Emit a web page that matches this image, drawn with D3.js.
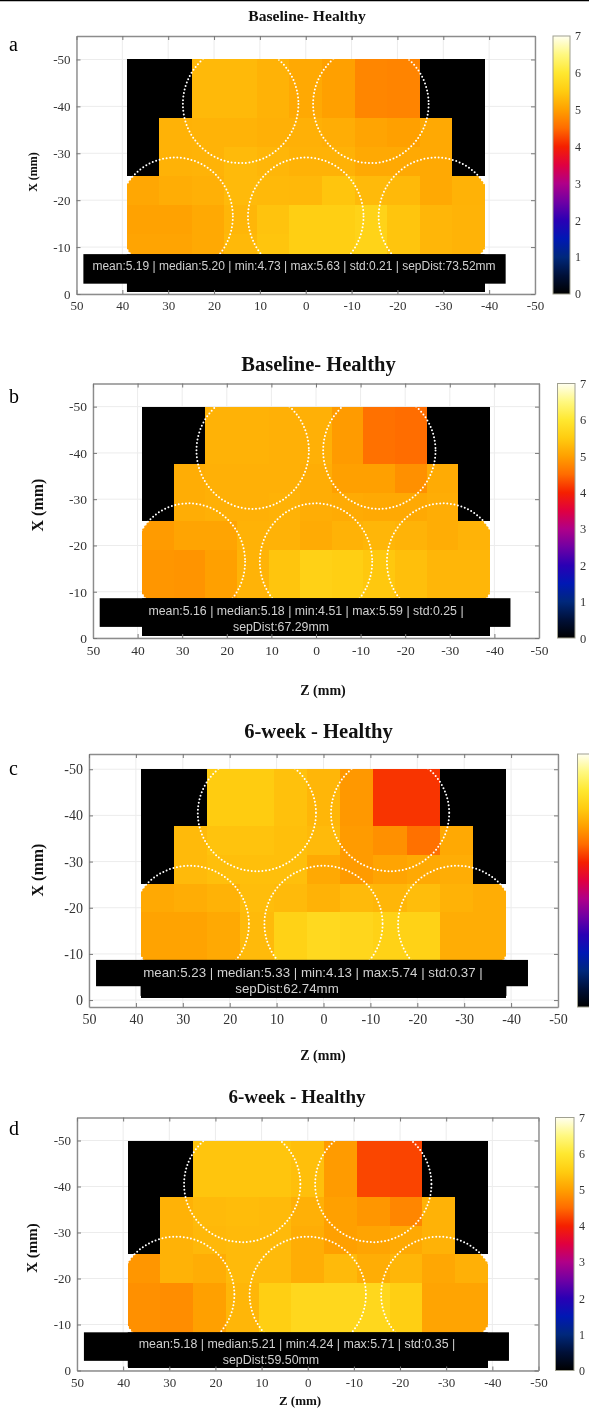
<!DOCTYPE html>
<html>
<head>
<meta charset="utf-8">
<script src="https://cdn.jsdelivr.net/npm/d3@7/dist/d3.min.js"></script>
<style>
html, body { margin: 0; padding: 0; background: #fff; overflow: hidden; }
svg { display: block; filter: blur(0.3px); }
</style>
</head>
<body>
<div id="chart"></div>
<script>
// heat values per panel, rows go from X=-50 down to X=0, columns from Z=39 to Z=-39
// 0 means no data (drawn black)
var valuesA = [
    [0, 0, 5.28, 5.28, 5.20, 5.10, 5.00, 4.75, 4.73, 0, 0],
    [0, 0, 5.28, 5.28, 5.20, 5.10, 5.00, 4.75, 4.73, 0, 0],
    [0, 5.20, 5.22, 5.22, 5.18, 5.18, 5.15, 5.05, 5.00, 5.10, 0],
    [0, 5.20, 5.22, 5.30, 5.25, 5.20, 5.20, 5.10, 5.10, 5.10, 0],
    [5.08, 5.15, 5.18, 5.30, 5.28, 5.27, 5.42, 5.30, 5.28, 5.10, 5.20],
    [5.02, 5.02, 5.10, 5.25, 5.40, 5.55, 5.55, 5.63, 5.42, 5.25, 5.22],
    [5.05, 5.05, 5.10, 5.28, 5.42, 5.55, 5.55, 5.63, 5.42, 5.25, 5.22],
    [0, 0, 0, 0, 0, 0, 0, 0, 0, 0, 0]
];
var valuesB = [
    [0, 0, 5.20, 5.20, 5.18, 5.18, 4.95, 4.55, 4.51, 0, 0],
    [0, 0, 5.20, 5.20, 5.18, 5.18, 4.95, 4.55, 4.51, 0, 0],
    [0, 5.15, 5.18, 5.18, 5.18, 5.15, 5.00, 5.00, 4.85, 5.12, 0],
    [0, 5.15, 5.18, 5.18, 5.20, 5.15, 5.12, 5.10, 5.10, 5.15, 0],
    [4.95, 5.05, 5.05, 5.20, 5.20, 5.12, 5.20, 5.25, 5.22, 5.15, 5.22],
    [4.90, 4.88, 5.00, 5.22, 5.42, 5.59, 5.55, 5.45, 5.35, 5.25, 5.25],
    [4.90, 4.88, 5.00, 5.22, 5.42, 5.59, 5.55, 5.45, 5.35, 5.25, 5.25],
    [0, 0, 0, 0, 0, 0, 0, 0, 0, 0, 0]
];
var valuesC = [
    [0, 0, 5.50, 5.50, 5.38, 5.25, 4.92, 4.13, 4.13, 0, 0],
    [0, 0, 5.50, 5.50, 5.38, 5.25, 4.92, 4.13, 4.13, 0, 0],
    [0, 5.30, 5.40, 5.40, 5.35, 5.30, 4.95, 4.85, 4.55, 5.10, 0],
    [0, 5.30, 5.35, 5.35, 5.35, 5.10, 4.95, 5.05, 5.10, 5.15, 0],
    [5.10, 5.15, 5.20, 5.33, 5.30, 5.20, 5.30, 5.25, 5.33, 5.20, 5.15],
    [5.03, 5.03, 5.10, 5.30, 5.60, 5.74, 5.68, 5.60, 5.60, 5.15, 5.15],
    [5.03, 5.03, 5.10, 5.30, 5.60, 5.74, 5.68, 5.60, 5.60, 5.15, 5.15],
    [0, 0, 0, 0, 0, 0, 0, 0, 0, 0, 0]
];
var valuesD = [
    [0, 0, 5.42, 5.42, 5.42, 5.35, 4.95, 4.25, 4.24, 0, 0],
    [0, 0, 5.42, 5.42, 5.42, 5.35, 4.95, 4.25, 4.24, 0, 0],
    [0, 5.20, 5.30, 5.32, 5.30, 5.18, 5.00, 4.90, 4.75, 5.20, 0],
    [0, 5.20, 5.27, 5.30, 5.30, 5.15, 5.00, 5.05, 5.10, 5.20, 0],
    [4.90, 5.20, 5.15, 5.30, 5.30, 5.15, 5.30, 5.15, 5.25, 5.08, 5.18],
    [4.85, 4.82, 5.00, 5.25, 5.55, 5.70, 5.70, 5.70, 5.55, 5.05, 5.05],
    [4.85, 4.82, 5.00, 5.25, 5.55, 5.70, 5.70, 5.70, 5.55, 5.05, 5.05],
    [0, 0, 0, 0, 0, 0, 0, 0, 0, 0, 0]
];

var statsA = ["mean:5.19 | median:5.20 | min:4.73 | max:5.63 | std:0.21 | sepDist:73.52mm"];
var statsB = ["mean:5.16 | median:5.18 | min:4.51 | max:5.59 | std:0.25 |", "sepDist:67.29mm"];
var statsC = ["mean:5.23 | median:5.33 | min:4.13 | max:5.74 | std:0.37 |", "sepDist:62.74mm"];
var statsD = ["mean:5.18 | median:5.21 | min:4.24 | max:5.71 | std:0.35 |", "sepDist:59.50mm"];

var zTicks = [50, 40, 30, 20, 10, 0, -10, -20, -30, -40, -50];
var xTicks = [-50, -40, -30, -20, -10, 0];
var cbTicks = [0, 1, 2, 3, 4, 5, 6, 7];

// colormap
var cmapValues = [0, 0.5, 1, 1.5, 2, 2.5, 3, 3.5, 4, 4.5, 5, 5.5, 6, 6.5, 7];
var cmapColors = ["#000000", "#001038", "#00287c", "#0018b4", "#2a00b4", "#7000a4", "#b00088", "#e00040",
                  "#f52000", "#ff6c00", "#ffa000", "#ffcc10", "#ffe830", "#fff880", "#fffff0"];

// the five circles in mm
var circleZ = [14.2, -14.2, 28.5, 0, -28.5];
var circleX = [-40.5, -40.5, -16.5, -16.5, -16.5];
var circleR = 12.6;

var panels = [
    {id: "a", title: "Baseline- Healthy", values: valuesA, stats: statsA, left: 76.5, right: 535, top: 36, bottom: 294,
     xDomain: [-55, 0], cbLeft: 553, cbRight: 570, cbLabels: true, titleX: 307, titleY: 21, titleSize: 15.6, tick: 13,
     letterY: 51, xLabelX: 37, xLabelY: 172, xLabelSize: 12, zLabelX: 0, zLabelY: 0, zLabelSize: 0,
     statsSize: 12, statsLine: [270], statsCenter: [294], boxTop: -8.5, boxBottom: -2.2, bandBottom: -0.5},
    {id: "b", title: "Baseline- Healthy", values: valuesB, stats: statsB, left: 93, right: 539, top: 383.5, bottom: 638,
     xDomain: [-55, 0], cbLeft: 557.5, cbRight: 575, cbLabels: true, titleX: 318.5, titleY: 371, titleSize: 20.5, tick: 13.5,
     letterY: 403, xLabelX: 43, xLabelY: 505, xLabelSize: 16, zLabelX: 323, zLabelY: 695, zLabelSize: 14,
     statsSize: 12.35, statsLine: [615, 631], statsCenter: [306, 281], boxTop: -8.6, boxBottom: -2.4, bandBottom: -0.5},
    {id: "c", title: "6-week - Healthy", values: valuesC, stats: statsC, left: 89, right: 558, top: 754, bottom: 1007,
     xDomain: [-53.3, 1.5], cbLeft: 577.5, cbRight: 595, cbLabels: false, titleX: 318.5, titleY: 738, titleSize: 20.6, tick: 14,
     letterY: 775, xLabelX: 43, xLabelY: 870, xLabelSize: 16, zLabelX: 323, zLabelY: 1060, zLabelSize: 14,
     statsSize: 13.3, statsLine: [977, 993], statsCenter: [313, 287], boxTop: -8.7, boxBottom: -3, bandBottom: -0.9},
    {id: "d", title: "6-week - Healthy", values: valuesD, stats: statsD, left: 77, right: 538.5, top: 1117.5, bottom: 1370.5,
     xDomain: [-55, 0], cbLeft: 555.5, cbRight: 574, cbLabels: true, titleX: 297, titleY: 1103, titleSize: 19, tick: 13,
     letterY: 1135, xLabelX: 37, xLabelY: 1248, xLabelSize: 15, zLabelX: 300, zLabelY: 1405, zLabelSize: 13,
     statsSize: 12.4, statsLine: [1348, 1364], statsCenter: [297, 271], boxTop: -8.3, boxBottom: -2.1, bandBottom: -0.8}
];

var serif = "'Liberation Serif', serif";
var sans = "'Liberation Sans', sans-serif";

var svg = d3.select("#chart").append("svg")
    .attr("width", 589)
    .attr("height", 1408);

svg.append("rect").attr("width", 589).attr("height", 1408).attr("fill", "#fff");
// black rule at the very top of the figure
svg.append("line")
    .attr("x1", 0).attr("x2", 589).attr("y1", 0.5).attr("y2", 0.5)
    .attr("stroke", "#000").attr("stroke-width", 1.5);

var color = d3.scaleLinear().domain(cmapValues).range(cmapColors);

// colorbar gradient, shared by all panels
var grad = svg.append("defs").append("linearGradient")
    .attr("id", "cbGrad")
    .attr("x1", 0).attr("x2", 0).attr("y1", 1).attr("y2", 0);
grad.selectAll("stop").data(cmapValues).enter().append("stop")
    .attr("offset", function(d) { return d / 7; })
    .attr("stop-color", function(d) { return color(d); });

function drawPanel(p) {
    var g = svg.append("g");
    var x = d3.scaleLinear().domain([50, -50]).range([p.left, p.right]);
    var y = d3.scaleLinear().domain(p.xDomain).range([p.top, p.bottom]);

    // grid
    g.selectAll(".gz").data(zTicks).enter().append("line")
        .attr("x1", function(d) { return x(d); }).attr("x2", function(d) { return x(d); })
        .attr("y1", p.top).attr("y2", p.bottom)
        .attr("stroke", "#ececec");
    g.selectAll(".gx").data(xTicks).enter().append("line")
        .attr("y1", function(d) { return y(d); }).attr("y2", function(d) { return y(d); })
        .attr("x1", p.left).attr("x2", p.right)
        .attr("stroke", "#ececec");

    // heat cells
    var cols = d3.scaleBand().domain(d3.range(12)).range([x(39), x(-39 - 78 / 11)]);
    var rows = d3.scaleBand().domain(d3.range(9)).range([y(-50), y(-0.5 + 49.5 / 8)]);
    var rx = x(0) - x(circleR);
    var ry = y(0) - y(-circleR);

    var defs = g.append("defs");
    defs.append("clipPath").attr("id", "clipL" + p.id).append("ellipse")
        .attr("cx", x(circleZ[2])).attr("cy", y(circleX[2])).attr("rx", rx).attr("ry", ry);
    defs.append("clipPath").attr("id", "clipR" + p.id).append("ellipse")
        .attr("cx", x(circleZ[4])).attr("cy", y(circleX[4])).attr("rx", rx).attr("ry", ry);
    defs.append("clipPath").attr("id", "clipH" + p.id).append("rect")
        .attr("x", x(39)).attr("y", y(-50))
        .attr("width", x(-39) - x(39)).attr("height", y(-0.5) - y(-50));

    p.values.forEach(function(row, i) {
        row.forEach(function(v, j) {
            // snap cell edges to whole pixels so no seams show between neighbours
            var x0 = Math.round(cols(j)), x1 = Math.round(cols(j + 1));
            var y0 = Math.round(rows(i)), y1 = Math.round(rows(i + 1));
            var cell = g.append("rect")
                .attr("x", x0).attr("y", y0)
                .attr("width", x1 - x0).attr("height", y1 - y0)
                .attr("shape-rendering", "crispEdges")
                .attr("fill", color(v));
            // outer columns get rounded by the side circles
            if (v > 0 && j == 0) cell.attr("clip-path", "url(#clipL" + p.id + ")").attr("shape-rendering", "auto");
            if (v > 0 && j == 10) cell.attr("clip-path", "url(#clipR" + p.id + ")").attr("shape-rendering", "auto");
        });
    });

    // dotted circles
    g.append("g").attr("clip-path", "url(#clipH" + p.id + ")")
        .selectAll("ellipse").data(circleZ).enter().append("ellipse")
        .attr("cx", function(d) { return x(d); })
        .attr("cy", function(d, i) { return y(circleX[i]); })
        .attr("rx", rx).attr("ry", ry)
        .attr("fill", "none")
        .attr("stroke", "#fff")
        .attr("stroke-width", 2)
        .attr("stroke-linecap", "round")
        .attr("stroke-dasharray", "0 3.6");

    // stats box
    g.append("rect")
        .attr("x", x(48.5)).attr("y", y(p.boxTop))
        .attr("width", x(-43.6) - x(48.5)).attr("height", y(p.boxBottom) - y(p.boxTop))
        .attr("fill", "#000");
    g.append("rect")
        .attr("x", x(39)).attr("y", y(p.boxTop))
        .attr("width", x(-39) - x(39)).attr("height", y(p.bandBottom) - y(p.boxTop))
        .attr("fill", "#000");
    g.selectAll(".stat").data(p.stats).enter().append("text")
        .attr("x", function(d, i) { return p.statsCenter[i]; })
        .attr("y", function(d, i) { return p.statsLine[i]; })
        .attr("text-anchor", "middle")
        .attr("font-family", sans)
        .attr("font-size", p.statsSize)
        .attr("fill", "#d0d0d0")
        .text(function(d) { return d; });

    // axes and box
    var axBottom = g.append("g")
        .attr("transform", "translate(0," + p.bottom + ")")
        .call(d3.axisBottom(x).tickValues(zTicks).tickSizeInner(-4).tickSizeOuter(0).tickPadding(7).tickFormat(String));
    var axLeft = g.append("g")
        .attr("transform", "translate(" + p.left + ",0)")
        .call(d3.axisLeft(y).tickValues(xTicks).tickSizeInner(-4).tickSizeOuter(0).tickPadding(6).tickFormat(String));
    var axTop = g.append("g")
        .attr("transform", "translate(0," + p.top + ")")
        .call(d3.axisTop(x).tickValues(zTicks).tickSizeInner(-4).tickSizeOuter(0).tickFormat(""));
    var axRight = g.append("g")
        .attr("transform", "translate(" + p.right + ",0)")
        .call(d3.axisRight(y).tickValues(xTicks).tickSizeInner(-4).tickSizeOuter(0).tickFormat(""));

    [axBottom, axLeft, axTop, axRight].forEach(function(a) {
        a.select(".domain").attr("stroke", "#8c8c8c").attr("stroke-width", 1.4);
        a.selectAll(".tick line").attr("stroke", "#777");
        a.selectAll("text")
            .attr("font-family", serif).attr("font-size", p.tick).attr("fill", "#333");
    });

    // colorbar
    var cb = d3.scaleLinear().domain([0, 7]).range([p.bottom, p.top]);
    g.append("rect")
        .attr("x", p.cbLeft).attr("y", p.top)
        .attr("width", p.cbRight - p.cbLeft).attr("height", p.bottom - p.top)
        .attr("fill", "url(#cbGrad)")
        .attr("stroke", "#a0a090").attr("stroke-width", 1);
    if (p.cbLabels) { // panel c's labels fall outside the picture
        var axCb = g.append("g")
            .attr("transform", "translate(" + p.cbRight + ",0)")
            .call(d3.axisRight(cb).tickValues(cbTicks).tickSizeInner(0).tickSizeOuter(0).tickPadding(5).tickFormat(String));
        axCb.select(".domain").remove();
        axCb.selectAll("text").attr("font-family", serif).attr("font-size", p.tick - 1).attr("fill", "#333");
    }

    // titles and labels
    g.append("text")
        .attr("x", p.titleX).attr("y", p.titleY)
        .attr("text-anchor", "middle")
        .attr("font-family", serif).attr("font-weight", "bold")
        .attr("font-size", p.titleSize).attr("fill", "#111")
        .text(p.title);
    g.append("text")
        .attr("x", 9).attr("y", p.letterY)
        .attr("font-family", serif).attr("font-size", 20).attr("fill", "#000")
        .text(p.id);
    g.append("text")
        .attr("transform", "translate(" + p.xLabelX + "," + p.xLabelY + ") rotate(-90)")
        .attr("text-anchor", "middle")
        .attr("font-family", serif).attr("font-weight", "bold")
        .attr("font-size", p.xLabelSize).attr("fill", "#111")
        .text("X (mm)");
    if (p.zLabelSize > 0) {
        g.append("text")
            .attr("x", p.zLabelX).attr("y", p.zLabelY)
            .attr("text-anchor", "middle")
            .attr("font-family", serif).attr("font-weight", "bold")
            .attr("font-size", p.zLabelSize).attr("fill", "#111")
            .text("Z (mm)");
    }
}

panels.forEach(drawPanel);
</script>
</body>
</html>
